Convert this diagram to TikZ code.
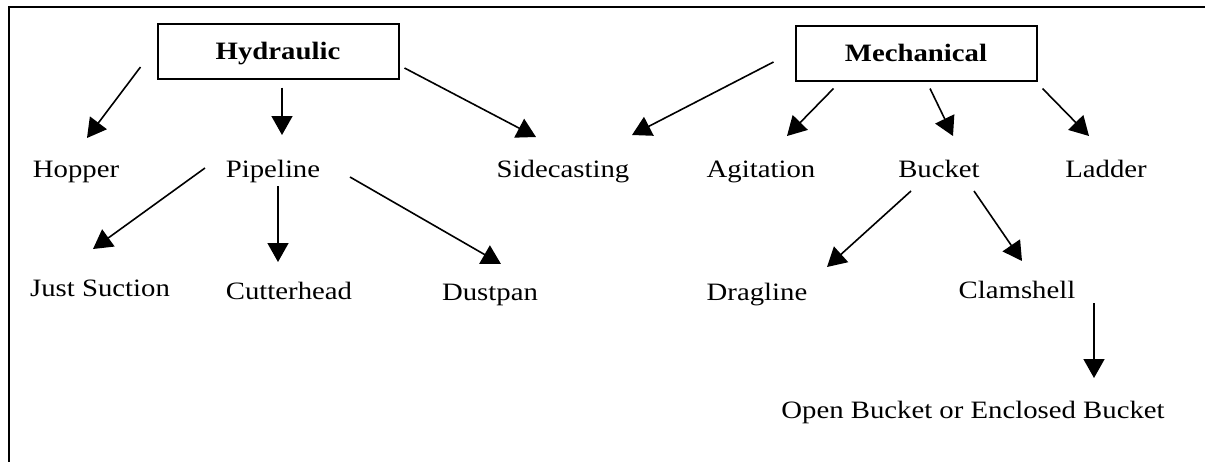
\documentclass[tikz,border=0pt]{standalone}
\usepackage{fontspec}
\setmainfont[FakeStretch=1.15]{Liberation Serif}
\usetikzlibrary{arrows.meta}
\begin{document}
\begin{tikzpicture}[x=0.5pt,y=-0.5pt,
        font=\fontsize{12.5pt}{15pt}\selectfont,
        box/.style={rectangle,draw,line width=1pt,minimum width=120.5pt,minimum height=27.5pt,inner sep=0pt,outer sep=0pt,text depth=0pt,font=\fontsize{12.5pt}{15pt}\selectfont\bfseries},
        lbl/.style={inner sep=0pt,outer sep=0pt,text height=8pt,text depth=2.5pt,anchor=base},
        arr/.style={-{Triangle[length=9.5pt,width=10.5pt]},line width=0.8pt}]
        \useasboundingbox (0,0) rectangle (1205,462);
        \draw[line width=1.2pt] (1205,7) -- (9,7) -- (9,462);
        % the two kinds
        \node at (278,51) [box] (hyd) {Hydraulic};
        \node at (916,53) [box] (mech) {Mechanical};
        % first row
        \node at (76,177) [lbl] (hop) {Hopper};
        \node at (273,177) [lbl] (pipe) {Pipeline};
        \node at (563,177) [lbl] (side) {Sidecasting};
        \node at (761,177) [lbl] (agit) {Agitation};
        \node at (939,177) [lbl] (buck) {Bucket};
        \node at (1106,177) [lbl] (ladd) {Ladder};
        % second row
        \node at (100,296) [lbl] (just) {Just Suction};
        \node at (289,299) [lbl] (cutt) {Cutterhead};
        \node at (490,300) [lbl] (dust) {Dustpan};
        \node at (757,300) [lbl] (drag) {Dragline};
        \node at (1017,298) [lbl] (clam) {Clamshell};
        \node at (973,418) [lbl] (open) {Open Bucket or Enclosed Bucket};
        % arrows
        \draw[arr] ([shift={(-17,16)}]hyd.west) -- ([shift={(11,-23)}]hop.north);
        \draw[arr] ([shift={(4,9)}]hyd.south) -- ([shift={(9,-26)}]pipe.north);
        \draw[arr] ([shift={(6,17)}]hyd.east) -- ([shift={(-27,-24)}]side.north);
        \draw[arr] ([shift={(-22,9)}]mech.west) -- ([shift={(69,-26)}]side.north);
        \draw[arr] ([shift={(38,8)}]mech.south west) -- ([shift={(26,-25)}]agit.north);
        \draw[arr] ([shift={(14,8)}]mech.south) -- ([shift={(14,-25)}]buck.north);
        \draw[arr] ([shift={(6,8)}]mech.south east) -- ([shift={(-17,-25)}]ladd.north);
        \draw[arr] ([shift={(-68,-9)}]pipe.base) -- ([shift={(-7,-31)}]just.north);
        \draw[arr] ([shift={(5,4)}]pipe.south) -- ([shift={(-11,-21)}]cutt.north);
        \draw[arr] ([shift={(77,0)}]pipe.base) -- ([shift={(11,-20)}]dust.north);
        \draw[arr] ([shift={(-28,9)}]buck.south) -- ([shift={(70,-17)}]drag.north);
        \draw[arr] ([shift={(35,9)}]buck.south) -- ([shift={(5,-21)}]clam.north);
        \draw[arr] ([shift={(77,5)}]clam.base) -- ([shift={(121,-40)}]open.base);
\end{tikzpicture}
\end{document}
